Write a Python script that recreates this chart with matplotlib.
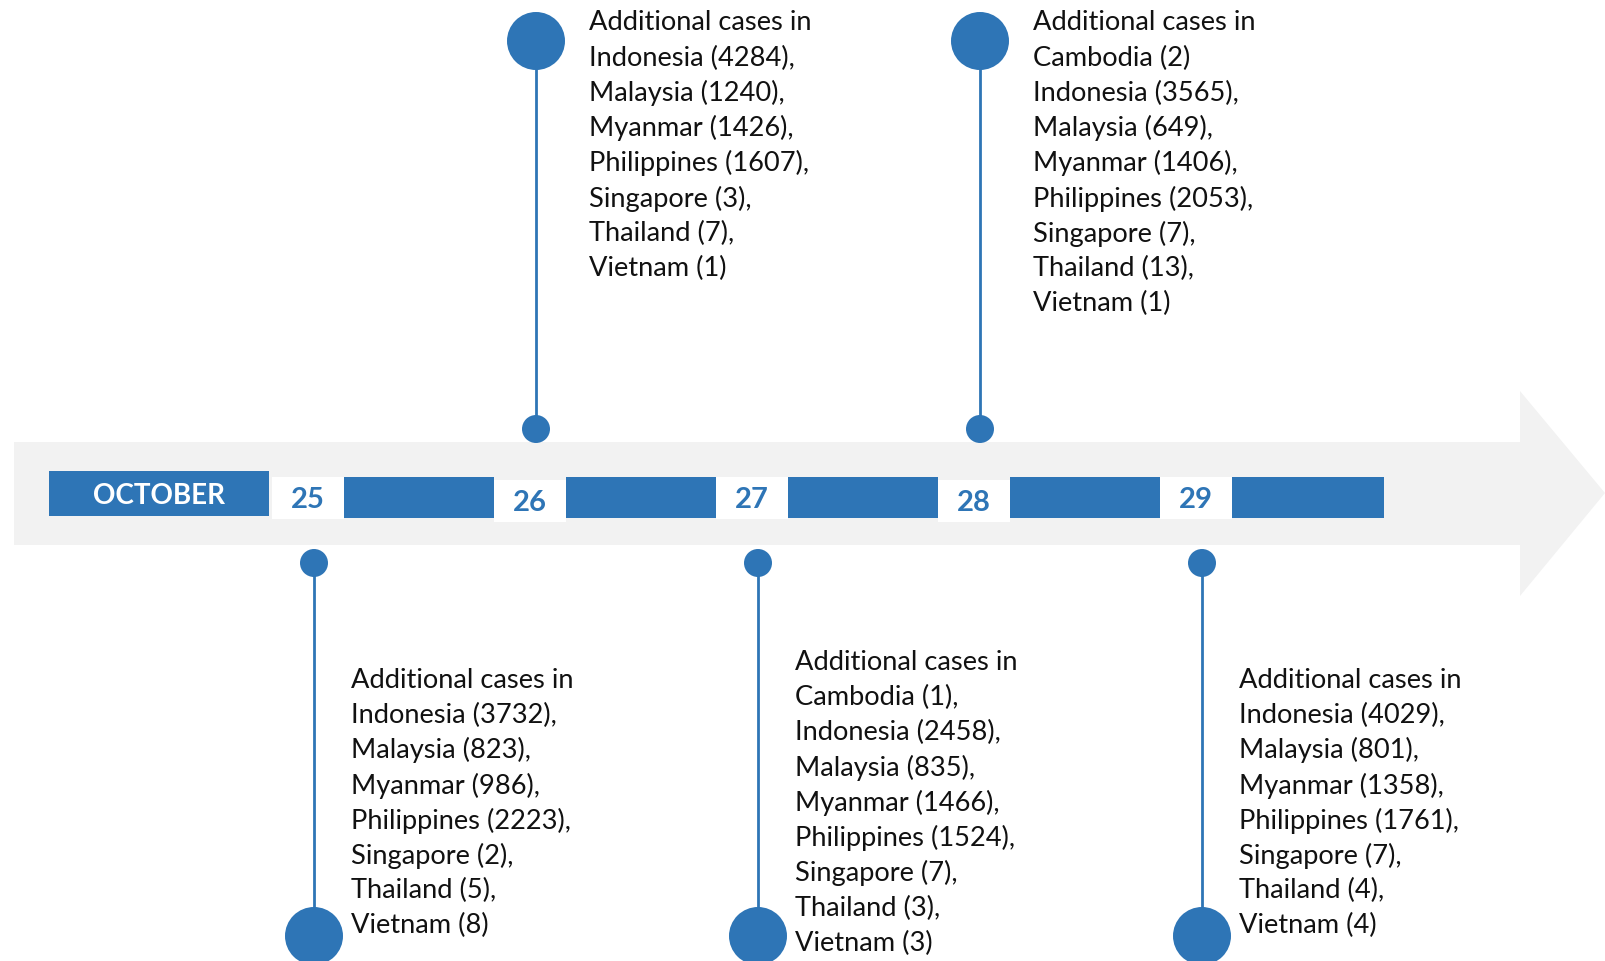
import matplotlib
matplotlib.use("Agg")
import matplotlib.pyplot as plt
from matplotlib.patches import Rectangle, Circle, Polygon

plt.rcParams['font.family'] = ['Lato', 'DejaVu Sans']

days = [25, 26, 27, 28, 29]
month = "OCTOBER"
countries = ["Cambodia", "Indonesia", "Malaysia", "Myanmar", "Philippines",
             "Singapore", "Thailand", "Vietnam"]
cambodia = [None, None, 1, 2, None]
indonesia = [3732, 4284, 2458, 3565, 4029]
malaysia = [823, 1240, 835, 649, 801]
myanmar = [986, 1426, 1466, 1406, 1358]
philippines = [2223, 1607, 1524, 2053, 1761]
singapore = [2, 3, 7, 7, 7]
thailand = [5, 7, 3, 13, 4]
vietnam = [8, 1, 3, 1, 4]
# event above (True) or below (False) the arrow
above = [False, True, False, True, False]

BLUE = "#2E75B6"
GREY = "#F2F2F2"
W, H = 1605, 962

fig = plt.figure(figsize=(W / 100, H / 100), dpi=100)
ax = fig.add_axes([0, 0, 1, 1])
ax.set_xlim(0, W)
ax.set_ylim(H, 0)
ax.axis("off")

# grey arrow
ax.add_patch(Polygon([(14, 443), (1520, 443), (1520, 392), (1605, 494),
                      (1520, 597), (1520, 546), (14, 546)],
                     closed=True, facecolor=GREY, edgecolor="none", zorder=1))

# month box
ax.add_patch(Rectangle((49, 472), 220, 45, facecolor=BLUE, edgecolor="none", zorder=2))
ax.text(159, 496, month, color="white", fontsize=20, fontweight="bold",
        ha="center", va="center", zorder=3)

step = 222
box_w = 72
bar_end = 1384
all_vals = [cambodia, indonesia, malaysia, myanmar, philippines,
            singapore, thailand, vietnam]

for i, day in enumerate(days):
    bx = 308 + i * step
    # blue bar to the next white box
    nxt = 308 + (i + 1) * step - box_w / 2 if i < len(days) - 1 else bar_end
    ax.add_patch(Rectangle((bx + box_w / 2, 478), nxt - bx - box_w / 2, 41,
                           facecolor=BLUE, edgecolor="none", zorder=2))
    dy = 3 if i % 2 == 1 else 0
    ax.add_patch(Rectangle((bx - box_w / 2, 478 + dy), box_w, 42,
                           facecolor="white", edgecolor="none", zorder=2))
    ax.text(bx, 500 + dy, str(day), color=BLUE, fontsize=21, fontweight="bold",
            ha="center", va="center", zorder=3)

    # stem with small and large dots
    cx = 314 + i * step
    if above[i]:
        y_small, y_big = 430, 42
    else:
        y_small, y_big = 564, 937
    ax.plot([cx, cx], [y_small, y_big], color=BLUE, lw=2, zorder=2)
    ax.add_patch(Circle((cx, y_small), 14, facecolor=BLUE, edgecolor="none", zorder=3))
    ax.add_patch(Circle((cx, y_big), 29, facecolor=BLUE, edgecolor="none", zorder=3))

    # text block
    lines = ["Additional cases in"]
    items = [(c, v[i]) for c, v in zip(countries, all_vals) if v[i] is not None]
    for k, (c, v) in enumerate(items):
        sep = "," if k < len(items) - 1 else ""
        if c == "Cambodia" and day == 28:
            sep = ""
        lines.append(f"{c} ({v}){sep}")
    lh = 35.1
    if above[i]:
        tx = cx + 53
        y0 = 23
    else:
        tx = cx + 37
        y0 = 803 - (len(lines) - 1) * lh / 2
    for k, line in enumerate(lines):
        ax.text(tx, y0 + k * lh, line, color="#111111", fontsize=19.6,
                ha="left", va="center", zorder=3)

fig.savefig("out.png", dpi=100, facecolor="white")
